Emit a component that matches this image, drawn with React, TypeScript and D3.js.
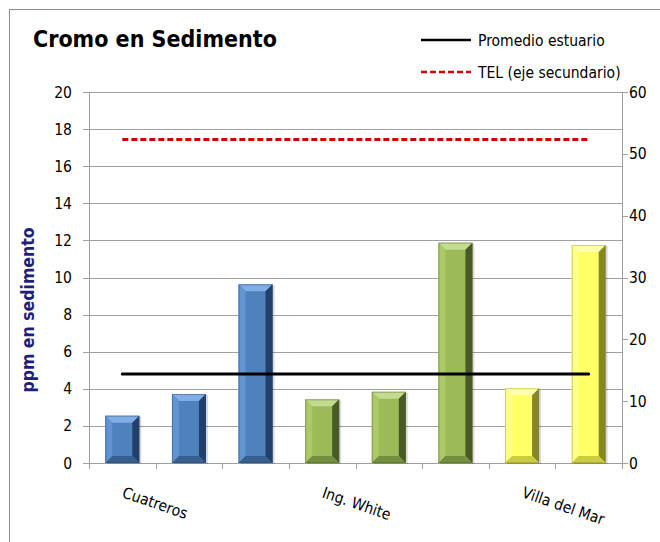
import React from "react";
import * as d3 from "d3";

const sites = ["C1", "C2", "C3", "W1", "W2", "W3", "V1", "V2"];
const groups = ["Cuatreros", "Cuatreros", "Cuatreros", "Ing. White", "Ing. White", "Ing. White", "Villa del Mar", "Villa del Mar"];
const xLabels = ["Cuatreros", "", "", "Ing. White", "", "", "Villa del Mar", ""];
const values = [2.55, 3.72, 9.63, 3.43, 3.84, 11.88, 4.03, 11.75];
const promedio = [4.8, 4.8, 4.8, 4.8, 4.8, 4.8, 4.8, 4.8];
const tel = [52.3, 52.3, 52.3, 52.3, 52.3, 52.3, 52.3, 52.3];
const leftTicks = [0, 2, 4, 6, 8, 10, 12, 14, 16, 18, 20];
const rightTicks = [0, 10, 20, 30, 40, 50, 60];

const palette: Record<string, { face: string; top: string; left: string; right: string; bottom: string }> = {
  Cuatreros: { face: "#4F81BD", top: "#80ADE3", left: "#6294D2", right: "#22406A", bottom: "#35608F" },
  "Ing. White": { face: "#9BBB59", top: "#C3DC92", left: "#AACA68", right: "#4A5A26", bottom: "#74903C" },
  "Villa del Mar": { face: "#FFFF66", top: "#FFFFB0", left: "#FFFF88", right: "#85852A", bottom: "#CCCC40" },
};

const FONT = "'DejaVu Sans Condensed', 'DejaVu Sans', Verdana, sans-serif";

export default function App() {
  const left = 89, right = 622, top = 92, bottom = 463;
  const x = d3.scaleBand<string>().domain(sites).range([left, right]).paddingInner(0.49).paddingOuter(0.245);
  const y = d3.scaleLinear().domain([0, 20]).range([bottom, top]);
  const y2 = d3.scaleLinear().domain([0, 60]).range([bottom, top]);
  const step = x.step();
  const bw = x.bandwidth();
  const bev = 7;
  const lineAvg = d3.line<number>().x((_, i) => (x(sites[i]) as number) + bw / 2).y((d) => y(d));
  const lineTel = d3.line<number>().x((_, i) => (x(sites[i]) as number) + bw / 2).y((d) => y2(d));
  const boundaries = d3.range(sites.length + 1).map((i) => left + i * step);

  return (
    <svg width={660} height={542} style={{ position: "absolute", left: 0, top: 0, fontFamily: FONT }}>
      <rect x={0} y={0} width={660} height={542} fill="#fff" />
      <rect x={9.5} y={9.5} width={800} height={800} fill="none" stroke="#8C8C8C" strokeWidth={1} />
      <text x={33} y={47} fontSize={23} fontWeight="bold" fill="#000">Cromo en Sedimento</text>

      {/* legend */}
      <line x1={421} x2={471} y1={40} y2={40} stroke="#000" strokeWidth={2.5} />
      <text x={478} y={45.5} fontSize={15.5} fill="#000">Promedio estuario</text>
      <line x1={421} x2={471} y1={72} y2={72} stroke="#D00000" strokeWidth={2.5} strokeDasharray="6 3" />
      <text x={478} y={77.5} fontSize={15.5} fill="#000">TEL (eje secundario)</text>

      {/* gridlines */}
      {leftTicks.filter((t) => t > 0).map((t) => (
        <line key={"g" + t} x1={left} x2={right} y1={Math.round(y(t)) + 0.5} y2={Math.round(y(t)) + 0.5} stroke="#A0A0A0" />
      ))}
      {/* left axis */}
      <line x1={left + 0.5} x2={left + 0.5} y1={top} y2={bottom + 1} stroke="#A0A0A0" />
      {leftTicks.map((t) => (
        <g key={"l" + t}>
          <line x1={left - 6} x2={left} y1={Math.round(y(t)) + 0.5} y2={Math.round(y(t)) + 0.5} stroke="#A0A0A0" />
          <text x={72} y={y(t) + 5.5} fontSize={15.5} textAnchor="end" fill="#000">{t}</text>
        </g>
      ))}
      {/* right axis */}
      <line x1={right + 0.5} x2={right + 0.5} y1={top} y2={bottom + 1} stroke="#A0A0A0" />
      {rightTicks.map((t) => (
        <g key={"r" + t}>
          <line x1={right} x2={right + 6} y1={Math.round(y2(t)) + 0.5} y2={Math.round(y2(t)) + 0.5} stroke="#A0A0A0" />
          <text x={629} y={y2(t) + 5.5} fontSize={15.5} fill="#000">{t}</text>
        </g>
      ))}
      {/* x axis */}
      <line x1={left} x2={right + 1} y1={bottom + 0.5} y2={bottom + 0.5} stroke="#A0A0A0" />
      {boundaries.map((bx, i) => (
        <line key={"xt" + i} x1={Math.round(bx) + 0.5} x2={Math.round(bx) + 0.5} y1={bottom} y2={bottom + 6} stroke="#A0A0A0" />
      ))}

      {/* bars */}
      {values.map((v, i) => {
        const c = palette[groups[i]];
        const x0 = x(sites[i]) as number;
        const x1 = x0 + bw;
        const y0 = y(v);
        const y1 = y(0);
        return (
          <g key={"b" + i}>
            <rect x={x0 + 2} y={y0 + 1} width={bw} height={y1 - y0} fill="#000" opacity={0.15} />
            <rect x={x0} y={y0} width={bw} height={y1 - y0} fill={c.face} />
            <polygon points={`${x0},${y0} ${x1},${y0} ${x1 - bev},${y0 + bev} ${x0 + bev},${y0 + bev}`} fill={c.top} />
            <polygon points={`${x0},${y0} ${x0 + bev},${y0 + bev} ${x0 + bev},${y1 - bev} ${x0},${y1}`} fill={c.left} />
            <polygon points={`${x1},${y0} ${x1},${y1} ${x1 - bev},${y1 - bev} ${x1 - bev},${y0 + bev}`} fill={c.right} />
            <polygon points={`${x0},${y1} ${x1},${y1} ${x1 - bev},${y1 - bev} ${x0 + bev},${y1 - bev}`} fill={c.bottom} />
            <rect x={x0 + 0.5} y={y0 + 0.5} width={bw - 1} height={y1 - y0 - 1} fill="none" stroke={c.right} strokeOpacity={0.4} />
          </g>
        );
      })}

      {/* lines */}
      <path d={lineAvg(promedio) as string} fill="none" stroke="#000" strokeWidth={3} strokeLinecap="round" />
      <path d={lineTel(tel) as string} fill="none" stroke="#D00000" strokeWidth={3} strokeDasharray="6 3" />

      {/* x labels */}
      {xLabels.map((l, i) =>
        l ? (
          <text
            key={"xl" + i}
            transform={`translate(${(x(sites[i]) as number) + bw / 2 - 1},${497}) rotate(19)`}
            fontSize={15.5}
            fill="#000"
          >
            {l}
          </text>
        ) : null
      )}

      {/* y label */}
      <text transform={`translate(34,310) rotate(-90)`} textAnchor="middle" fontSize={17.5} fontWeight="bold" fill="#1F1F7A">
        ppm en sedimento
      </text>
    </svg>
  );
}
